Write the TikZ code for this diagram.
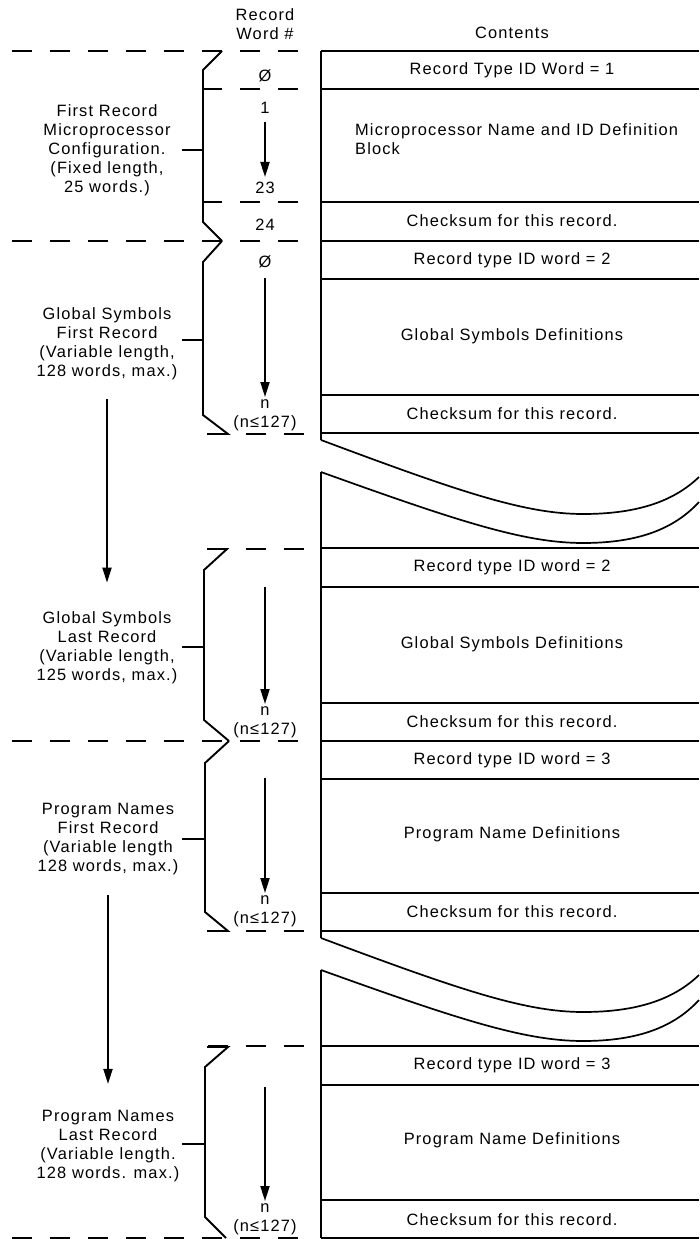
\documentclass[tikz,border=0pt]{standalone}
\usepackage{fontspec}
\setmainfont{Liberation Sans}[LetterSpace=7]
\usetikzlibrary{arrows.meta}
\tikzset{
  >={Triangle[length=15pt,width=9pt]},
  txt/.style={inner sep=0pt,font=\fontsize{16.4}{19}\selectfont},
  lab/.style={txt,align=center},
  cell/.style={txt},
  num/.style={txt,align=center},
  rule/.style={line width=1.7pt},
  brk/.style={line width=1.9pt,line join=miter},
  dline/.style={line width=1.9pt,dash pattern=on 20pt off 18pt},
  arr/.style={->,line width=1.9pt},
}

\begin{document}
\begin{tikzpicture}[x=1pt,y=-1pt]
\useasboundingbox (0,0) rectangle (699,1239);
% column heads
\node[lab] (hword) at (265,24) {Record\\Word \#};
\node[cell] (hcont) at (512,33) {Contents};

% table
\foreach \y in {51,89,202,241,279,395,433,548,587,703,741,779,893,931,1046,1085,1200,1238}
  \draw[rule] (321,\y) -- (699,\y);
\draw[rule] (321,51) -- (321,440);
\draw[rule] (321,472) -- (321,938);
\draw[rule] (321,970) -- (321,1238);
% torn parts
\foreach \dy in {0,498} {
  \draw[rule] (321,440+\dy) .. controls (460,492+\dy) and (525,514+\dy) .. (583,514+\dy)
    .. controls (640,514+\dy) and (675,500+\dy) .. (699,477+\dy);
  \draw[rule] (321,472+\dy) .. controls (460,522+\dy) and (525,543+\dy) .. (583,543+\dy)
    .. controls (640,543+\dy) and (675,528+\dy) .. (699,502+\dy);
}

% contents
\node[cell] (c1) at (512,70) {Record Type ID Word = 1};
\node[cell,anchor=west,align=left] (c2) at (355,139) {Microprocessor Name and ID Definition\\Block};
\node[cell] (c3) at (512,221) {Checksum for this record.};
\node[cell] (c4) at (512,260) {Record type ID word = 2};
\node[cell] (c5) at (512,336) {Global Symbols Definitions};
\node[cell] (c6) at (512,414) {Checksum for this record.};
\node[cell] (c7) at (512,567) {Record type ID word = 2};
\node[cell] (c8) at (512,644) {Global Symbols Definitions};
\node[cell] (c9) at (512,722) {Checksum for this record.};
\node[cell] (c10) at (512,760) {Record type ID word = 3};
\node[cell] (c11) at (512,834) {Program Name Definitions};
\node[cell] (c12) at (512,912) {Checksum for this record.};
\node[cell] (c13) at (512,1065) {Record type ID word = 3};
\node[cell] (c14) at (512,1140) {Program Name Definitions};
\node[cell] (c15) at (512,1220) {Checksum for this record.};

% dashed record boundaries
\foreach \y in {51,241,741,1238}
  \draw[dline] (12,\y) -- (300,\y);
\foreach \y in {89,202}
  \draw[dline] (202,\y) -- (300,\y);
\foreach \y in {434,549,931,1046}
  \draw[dline] (208,\y) -- (304,\y);

% word numbers
\node[num] (w0) at (265,76) {Ø};
\node[num] (w1) at (265,108) {1};
\node[num] (w23) at (265,188) {23};
\node[num] (w24) at (265,225) {24};
\draw[arr,shorten <=8pt,shorten >=5pt] (w1) -- (w23);

\node[num] (g0) at (265,262) {Ø};
\node[num,anchor=north] (n2) at (265,399) {n\\(n≤127)};
\draw[arr,shorten <=10pt,shorten >=2pt] (g0) -- (n2);

\coordinate (s3) at (265,587);
\node[num,anchor=north] (n3) at (265,706) {n\\(n≤127)};
\draw[arr,shorten >=2pt] (s3) -- (n3);

\coordinate (s4) at (265,778);
\node[num,anchor=north] (n4) at (265,895) {n\\(n≤127)};
\draw[arr,shorten >=2pt] (s4) -- (n4);

\coordinate (s5) at (265,1087);
\node[num,anchor=north] (n5) at (265,1203) {n\\(n≤127)};
\draw[arr,shorten >=2pt] (s5) -- (n5);

% record labels
\node[lab] (r1) at (107,150) {First Record\\Microprocessor\\Configuration.\\(Fixed length,\\25 words.)};
\node[lab] (r2) at (107,344) {Global Symbols\\First Record\\(Variable length,\\128 words, max.)};
\node[lab] (r3) at (107,648) {Global Symbols\\Last Record\\(Variable length,\\125 words, max.)};
\node[lab] (r4) at (108,839) {Program Names\\First Record\\(Variable length\\128 words, max.)};
\node[lab] (r5) at (108,1146) {Program Names\\Last Record\\(Variable length.\\128 words. max.)};
\draw[arr,shorten <=19pt,shorten >=29pt] (r2) -- (r3);
\draw[arr,shorten <=20pt,shorten >=26pt] (r4) -- (r5);

% braces
\draw[brk] (222,51) -- (203,70) -- (203,222) -- (222,241);
\draw[brk] (182,150) -- (203,150);
\draw[brk] (222,241) -- (203,262) -- (203,415) -- (228,434) -- (207,434);
\draw[brk] (182,340) -- (203,340);
\draw[brk] (207,549) -- (227,549) -- (204,570) -- (204,720) -- (229,741);
\draw[brk] (182,647) -- (204,647);
\draw[brk] (229,741) -- (205,763) -- (205,912) -- (228,931) -- (207,931);
\draw[brk] (182,839) -- (205,839);
\draw[brk] (207,1047) -- (228,1047) -- (205,1067) -- (205,1217) -- (226,1238);
\draw[brk] (182,1144) -- (205,1144);
\end{tikzpicture}
\end{document}
